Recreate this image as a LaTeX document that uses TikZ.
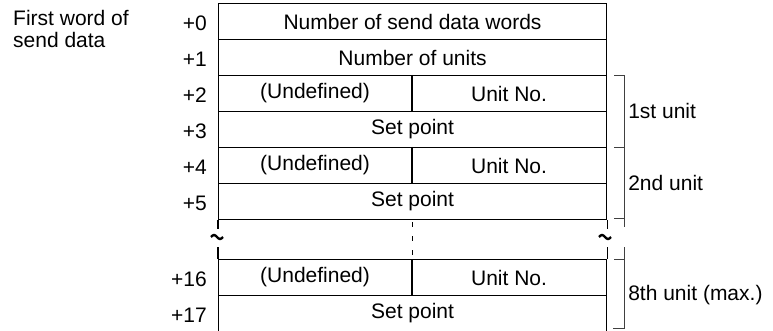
\documentclass[tikz,border=0pt]{standalone}
\usepackage{fontspec}
\setmainfont{Liberation Sans}
\begin{document}
\begin{tikzpicture}[x=1pt,y=-1pt,
  txt/.style={font=\fontsize{21}{22}\selectfont, inner sep=0pt},
  cell/.style={txt, draw, line width=1.1pt, minimum height=36pt, anchor=north west},
  full/.style={cell, minimum width=388pt},
  halfl/.style={cell, minimum width=193pt},
  halfr/.style={cell, minimum width=195pt},
  offs/.style={txt, anchor=east},
  divider/.style={line width=1.6pt},
  gapline/.style={line width=1.1pt},
  midgap/.style={line width=1.1pt, dash pattern=on 5pt off 9pt},
  brk/.style={line width=0.9pt, black!75},
  wave/.style={line width=2.4pt},
  lbl/.style={txt, anchor=west}]
\useasboundingbox (0,0) rectangle (773,331);

\node[txt, anchor=north west, align=left] (title) at (13,10) {First word of\\send data};

% rows
\node[full] (r0) at (218,3) {Number of send data words};
\node[full] (r1) at (218,39) {Number of units};
\node[halfl] (u1a) at (218,75) {(Undefined)};
\node[halfr] (u1b) at (411,75) {Unit No.};
\node[full] (s1) at (218,111) {Set point};
\node[halfl] (u2a) at (218,147) {(Undefined)};
\node[halfr] (u2b) at (411,147) {Unit No.};
\node[full] (s2) at (218,183) {Set point};
\node[halfl] (u8a) at (218,259) {(Undefined)};
\node[halfr] (u8b) at (411,259) {Unit No.};
\node[full] (s8) at (218,295) {Set point};

\draw[divider] (u1a.north east) -- (u1a.south east);
\draw[divider] (u2a.north east) -- (u2a.south east);
\draw[divider] (u8a.north east) -- (u8a.south east);

% offsets
\node[offs] (o0) at ([xshift=-11pt,yshift=-2pt]r0.west) {+0};
\node[offs] (o1) at ([xshift=-11pt,yshift=-2pt]r1.west) {+1};
\node[offs] (o2) at ([xshift=-11pt,yshift=-2pt]u1a.west) {+2};
\node[offs] (o3) at ([xshift=-11pt,yshift=-2pt]s1.west) {+3};
\node[offs] (o4) at ([xshift=-11pt,yshift=-2pt]u2a.west) {+4};
\node[offs] (o5) at ([xshift=-11pt,yshift=-2pt]s2.west) {+5};
\node[offs] (o16) at ([xshift=-11pt,yshift=-2pt]u8a.west) {+16};
\node[offs] (o17) at ([xshift=-11pt,yshift=-2pt]s8.west) {+17};

% gap
\draw[gapline] (s2.south west) -- ++(0,9);
\draw[gapline] (u8a.north west) -- ++(0,-12);
\draw[gapline] (s2.south east) -- ++(0,9);
\draw[gapline] (u8b.north east) -- ++(0,-12);
\coordinate (gtop) at (s2.south -| u8a.north east);
\draw[midgap] ([yshift=-2pt]gtop) -- (u8a.north east);
\coordinate (tl) at (217,237);
\coordinate (tr) at (605,237);
\draw[wave] ([xshift=-6pt]tl) sin ++(3,-2) cos ++(3,2) sin ++(3,2) cos ++(3,-2);
\draw[wave] ([xshift=-6pt]tr) sin ++(3,-2) cos ++(3,2) sin ++(3,2) cos ++(3,-2);

% brackets
\coordinate (b1t) at ([xshift=7pt]u1b.north east);
\coordinate (b1b) at ([xshift=7pt]u2b.north east);
\coordinate (b2b) at ([xshift=7pt]s2.south east);
\coordinate (b3t) at ([xshift=7pt]u8b.north east);
\coordinate (b3b) at (613,328);
\draw[brk] (b1t) -- ++(10,0) |- (b1b);
\draw[brk] (b1b) ++(10,0) -- ++(0,80);
\draw[brk] ([yshift=2pt]b2b) -- ++(10,0);
\draw[brk] (b3t) -- ++(10,0) -- ++(0,-12);
\draw[brk] ([xshift=10pt]b3t) |- (b3b);

\node[lbl] (l1) at ([xshift=14pt]b1t |- s1.north west) {1st unit};
\node[lbl] (l2) at ([xshift=14pt]b1t |- s2.north west) {2nd unit};
\node[lbl] (l8) at ([xshift=14pt]b1t |- s8.north west) {8th unit (max.)};
\end{tikzpicture}
\end{document}
